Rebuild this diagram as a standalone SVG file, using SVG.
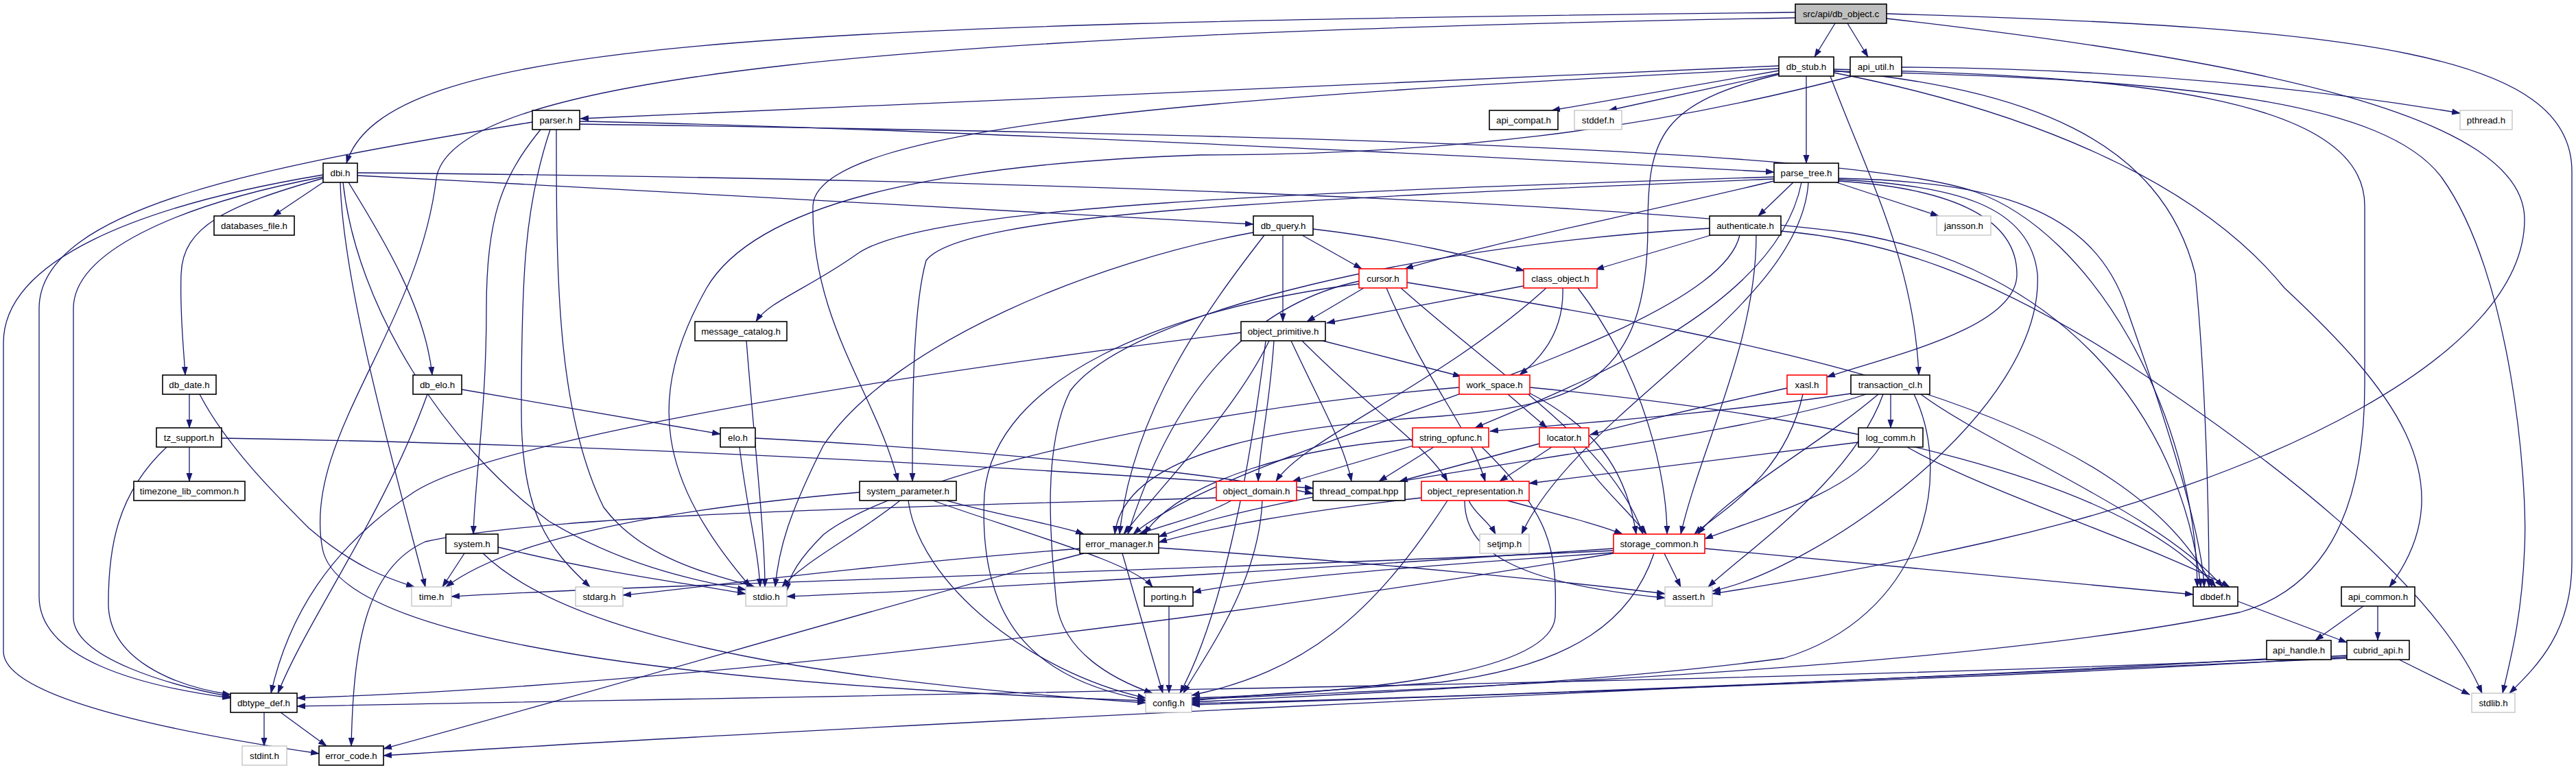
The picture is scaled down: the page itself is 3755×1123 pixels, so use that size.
<svg xmlns="http://www.w3.org/2000/svg" width="3755" height="1123" viewBox="0 0 3755 1123">
<style>
.e path{fill:none;stroke:#191970;stroke-width:1.3;marker-end:url(#a)}
.n rect{fill:#fff;stroke:#000;stroke-width:1.6}
.n.r rect{stroke:#ff0000}
.n.g rect{stroke:#c0c0c0;stroke-width:1.3}
.n.root rect{fill:#bfbfbf}
.n text{font-family:"Liberation Sans",Arial,Helvetica,sans-serif;font-size:13.33px;text-anchor:middle;fill:#000}
</style>
<defs>
<marker id="a" viewBox="0 0 13 10" markerWidth="13" markerHeight="10" refX="12" refY="5" orient="auto" markerUnits="userSpaceOnUse"><path d="M0,0.5 L13,5 L0,9.5 z" fill="#191970"/></marker>
</defs>
<rect width="3755" height="1123" fill="#fff"/>
<g id="edges" class="e">
<path d="M2617,18 C1100,35 560,60 505,238"/>
<path d="M2675,34 L2645,83"/>
<path d="M2693,34 L2723,83"/>
<path d="M2617,26 C1300,50 660,110 636,260 C610,480 440,640 470,800 C500,960 1200,1005 1670,1022"/>
<path d="M2750,20 C3450,40 3749,80 3749,250 L3749,820 C3749,920 3700,970 3658,1011"/>
<path d="M2750,27 C3300,90 3680,170 3680,320 C3680,520 3300,700 2900,790 C2700,835 2560,856 2496,866"/>
<path d="M2593,96 L846,173"/>
<path d="M2633,111 L2633,238"/>
<path d="M2593,103 L2262,161"/>
<path d="M2593,107 L2345,161"/>
<path d="M2593,100 C1800,140 1190,180 1185,300 C1182,470 1280,580 1309,702"/>
<path d="M2595,108 C2420,150 2402,200 2402,330 C2402,560 2300,590 2100,607 C1900,620 1640,650 1625,779"/>
<path d="M2668,111 C2720,250 2790,380 2797,547"/>
<path d="M2673,106 C2950,160 3200,260 3330,420 C3480,560 3600,700 3483,856"/>
<path d="M2673,103 C2950,130 3150,200 3200,400 C3215,550 3220,750 3220,856"/>
<path d="M2673,101 C3100,110 3447,140 3447,300 L3447,560 C3447,760 3380,860 3265,893 C2900,970 2200,1000 1737,1020"/>
<path d="M2673,104 C3200,115 3480,150 3560,260 C3660,400 3685,700 3680,800 C3676,900 3660,960 3648,1011"/>
<path d="M2772,98 C3100,100 3380,130 3586,165"/>
<path d="M2700,111 C2400,190 2100,226 1750,226 C1350,240 1100,300 1030,420 C940,580 960,700 1094,856"/>
<path d="M845,177 C1300,185 2200,230 2586,251"/>
<path d="M776,178 C400,240 57,300 57,450 L57,870 C57,960 200,1000 336,1018"/>
<path d="M788,189 C730,260 709,320 709,450 C709,600 692,700 690,779"/>
<path d="M802,189 C765,300 760,400 760,600 C760,750 800,800 860,856"/>
<path d="M811,189 C811,400 811,600 880,740 C940,820 1050,840 1100,856"/>
<path d="M845,181 C1800,195 2700,215 2880,280 C3050,340 3200,600 3203,856"/>
<path d="M471,266 L398,315"/>
<path d="M471,260 C330,300 266,330 264,400 C262,460 268,510 270,547"/>
<path d="M508,266 C560,350 620,450 630,547"/>
<path d="M521,256 C1000,280 1500,310 1827,327"/>
<path d="M471,255 C200,300 5,380 5,500 L5,950 C5,1010 200,1060 465,1099"/>
<path d="M471,258 C250,300 107,370 107,450 L107,900 C107,960 250,1000 336,1016"/>
<path d="M496,266 C500,420 580,700 620,856"/>
<path d="M500,266 C520,450 650,650 800,760 C900,820 1000,845 1087,860"/>
<path d="M521,252 C1400,260 2300,290 2700,340 C3000,390 3180,600 3208,856"/>
<path d="M2614,266 L2563,315"/>
<path d="M2677,266 L2826,315"/>
<path d="M2680,264 C2850,275 2940,320 2940,400 C2940,480 2750,520 2663,550"/>
<path d="M2586,264 C2350,320 2150,360 2048,392"/>
<path d="M2586,258 C1900,280 1350,300 1250,370 C1180,420 1120,440 1102,469"/>
<path d="M2586,261 C1900,290 1400,310 1350,380 C1330,450 1330,600 1330,702"/>
<path d="M2636,266 C2625,450 2300,600 2218,779"/>
<path d="M2626,266 C2590,450 2300,560 2150,624"/>
<path d="M2680,262 C2850,270 2960,300 2970,400 C2980,600 2650,830 2496,862"/>
<path d="M2680,260 C2900,265 3050,300 3100,450 C3160,620 3210,780 3213,856"/>
<path d="M2494,343 L2326,393"/>
<path d="M2492,333 C2100,355 1650,450 1560,570 C1520,650 1530,780 1540,880 C1550,950 1620,990 1680,1011"/>
<path d="M2536,343 C2500,500 1800,650 1652,779"/>
<path d="M2560,343 C2560,500 2480,650 2450,779"/>
<path d="M2596,337 C2750,350 2900,400 3100,530 C3300,660 3550,850 3618,1011"/>
<path d="M1898,343 L1985,392"/>
<path d="M1914,334 C2050,350 2150,375 2222,395"/>
<path d="M1870,343 L1870,469"/>
<path d="M1843,343 C1760,450 1650,600 1632,779"/>
<path d="M1827,339 C1600,380 1300,500 1200,650 C1150,750 1135,800 1130,856"/>
<path d="M1988,420 L1905,469"/>
<path d="M2021,420 C2080,560 2140,620 2165,702"/>
<path d="M2042,420 C2200,560 2350,650 2395,779"/>
<path d="M2051,412 C2600,500 3100,600 3225,856"/>
<path d="M1981,410 C1800,450 1700,600 1644,779"/>
<path d="M1981,414 C1700,450 1450,550 1435,720 C1425,900 1500,990 1670,1021"/>
<path d="M2221,417 L1934,471"/>
<path d="M2278,420 C2280,480 2250,520 2215,547"/>
<path d="M2254,420 C2100,560 1900,640 1860,702"/>
<path d="M2300,420 C2400,550 2430,700 2430,779"/>
<path d="M1088,497 C1100,650 1115,780 1115,856"/>
<path d="M1928,497 L2130,549"/>
<path d="M1857,497 C1850,600 1836,650 1834,702"/>
<path d="M1882,497 C1930,600 1960,650 1970,702"/>
<path d="M1898,497 C2000,600 2080,650 2110,702"/>
<path d="M1850,497 C1800,600 1700,700 1638,779"/>
<path d="M1845,497 C1820,700 1780,900 1720,1011"/>
<path d="M1809,485 C1200,560 700,650 600,720 C480,800 420,900 395,1011"/>
<path d="M276,575 L276,624"/>
<path d="M291,575 C330,650 400,720 450,770 C520,830 570,845 604,856"/>
<path d="M673,568 L1050,633"/>
<path d="M623,575 C560,750 450,900 405,1011"/>
<path d="M2198,575 L2255,624"/>
<path d="M2127,565 C1700,600 1300,700 1200,780 C1165,815 1150,840 1147,862"/>
<path d="M2230,565 C2700,610 3100,700 3230,856"/>
<path d="M2229,573 C2320,620 2370,680 2385,779"/>
<path d="M2605,566 C2450,600 2350,625 2318,634"/>
<path d="M2698,574 C2450,610 2250,620 2172,629"/>
<path d="M2628,575 C2600,700 2500,750 2470,779"/>
<path d="M2756,575 L2756,624"/>
<path d="M2738,575 C2650,650 2520,720 2475,779"/>
<path d="M2720,575 C2500,650 1900,700 1689,783"/>
<path d="M2745,575 C2700,700 2550,800 2490,856"/>
<path d="M2790,575 C2850,700 2800,900 2600,960 C2300,1000 1900,1015 1737,1024"/>
<path d="M2800,575 C2900,650 3150,750 3240,856"/>
<path d="M276,652 L276,702"/>
<path d="M243,652 C170,720 158,800 158,880 C158,960 250,1000 336,1013"/>
<path d="M323,639 C1000,650 1600,690 1914,712"/>
<path d="M1101,639 C1500,660 1800,695 1914,720"/>
<path d="M1078,652 C1090,750 1105,800 1108,856"/>
<path d="M2090,652 L2010,702"/>
<path d="M2060,650 L1884,702"/>
<path d="M2059,641 C1900,650 1720,700 1668,779"/>
<path d="M2160,652 C2260,750 2270,800 2267,900 C2260,980 2000,1010 1737,1018"/>
<path d="M2262,652 L2186,702"/>
<path d="M2244,647 L2040,702"/>
<path d="M2294,652 C2330,710 2370,740 2400,779"/>
<path d="M2709,645 C2500,670 2350,690 2229,705"/>
<path d="M2740,652 C2700,720 2550,760 2485,786"/>
<path d="M2780,652 C2900,720 3150,800 3250,856"/>
<path d="M1253,718 C1000,740 750,780 650,856"/>
<path d="M1312,730 C1250,780 1170,820 1140,856"/>
<path d="M1324,730 C1340,850 1500,980 1670,1018"/>
<path d="M1360,730 C1500,780 1650,820 1680,856"/>
<path d="M1380,730 C1450,750 1540,765 1580,779"/>
<path d="M1795,730 C1760,750 1700,765 1660,779"/>
<path d="M1840,730 C1835,850 1760,950 1725,1011"/>
<path d="M1773,726 C1300,740 800,750 620,790 C530,830 515,950 512,1088"/>
<path d="M2072,726 C1900,745 1760,770 1689,791"/>
<path d="M2141,730 C2150,750 2170,760 2180,779"/>
<path d="M2197,730 C2270,750 2330,765 2365,779"/>
<path d="M2135,730 C2135,800 2200,850 2427,872"/>
<path d="M2110,730 C2000,900 1900,980 1737,1014"/>
<path d="M677,807 L645,856"/>
<path d="M726,798 C900,840 1000,850 1087,866"/>
<path d="M704,807 C850,950 1300,1000 1670,1025"/>
<path d="M1574,800 C1200,830 1000,860 908,868"/>
<path d="M1580,807 C1300,880 900,1000 559,1092"/>
<path d="M1636,807 L1695,1011"/>
<path d="M1689,799 C2000,820 2300,850 2427,866"/>
<path d="M2485,800 L3197,867"/>
<path d="M2426,807 L2450,856"/>
<path d="M2411,807 C2380,900 2300,970 2100,995 C1900,1010 1800,1015 1737,1022"/>
<path d="M2352,800 C1900,830 1400,860 1147,870"/>
<path d="M2352,803 C1800,830 1000,850 658,870"/>
<path d="M2352,806 C2000,830 1800,850 1739,864"/>
<path d="M2352,807 C1800,900 1000,1000 433,1018"/>
<path d="M1704,884 L1704,1011"/>
<path d="M3262,877 L3421,937"/>
<path d="M3445,884 L3375,934"/>
<path d="M3466,884 L3466,934"/>
<path d="M3304,961 C2800,990 2200,1015 1737,1026"/>
<path d="M3497,962 L3600,1013"/>
<path d="M3421,958 C3000,985 2300,1010 1737,1028"/>
<path d="M3421,960 C2500,1000 1200,1060 559,1102"/>
<path d="M3421,956 C2800,990 1500,1010 433,1030"/>
<path d="M385,1039 L385,1088"/>
<path d="M409,1039 L476,1088"/>
</g>
<g id="node_db_object_c" class="n root"><rect x="2617" y="6" width="133" height="28"/><text x="2683.5" y="25">src/api/db_object.c</text></g>
<g id="node_db_stub_h" class="n"><rect x="2593" y="83" width="80" height="28"/><text x="2633" y="102">db_stub.h</text></g>
<g id="node_api_util_h" class="n"><rect x="2697" y="83" width="75" height="28"/><text x="2734.5" y="102">api_util.h</text></g>
<g id="node_parser_h" class="n"><rect x="776" y="161" width="69" height="28"/><text x="810.5" y="180">parser.h</text></g>
<g id="node_api_compat_h" class="n"><rect x="2171" y="161" width="100" height="28"/><text x="2221" y="180">api_compat.h</text></g>
<g id="node_stddef_h" class="n g"><rect x="2295" y="161" width="69" height="28"/><text x="2329.5" y="180">stddef.h</text></g>
<g id="node_pthread_h" class="n g"><rect x="3586" y="161" width="76" height="28"/><text x="3624" y="180">pthread.h</text></g>
<g id="node_dbi_h" class="n"><rect x="471" y="238" width="50" height="28"/><text x="496" y="257">dbi.h</text></g>
<g id="node_parse_tree_h" class="n"><rect x="2586" y="238" width="94" height="28"/><text x="2633" y="257">parse_tree.h</text></g>
<g id="node_databases_file_h" class="n"><rect x="312" y="315" width="117" height="28"/><text x="370.5" y="334">databases_file.h</text></g>
<g id="node_db_query_h" class="n"><rect x="1827" y="315" width="87" height="28"/><text x="1870.5" y="334">db_query.h</text></g>
<g id="node_authenticate_h" class="n"><rect x="2492" y="315" width="104" height="28"/><text x="2544" y="334">authenticate.h</text></g>
<g id="node_jansson_h" class="n g"><rect x="2823" y="315" width="79" height="28"/><text x="2862.5" y="334">jansson.h</text></g>
<g id="node_cursor_h" class="n r"><rect x="1981" y="392" width="70" height="28"/><text x="2016" y="411">cursor.h</text></g>
<g id="node_class_object_h" class="n r"><rect x="2221" y="392" width="107" height="28"/><text x="2274.5" y="411">class_object.h</text></g>
<g id="node_message_catalog_h" class="n"><rect x="1013" y="469" width="134" height="28"/><text x="1080" y="488">message_catalog.h</text></g>
<g id="node_object_primitive_h" class="n"><rect x="1809" y="469" width="123" height="28"/><text x="1870.5" y="488">object_primitive.h</text></g>
<g id="node_db_date_h" class="n"><rect x="237" y="547" width="78" height="28"/><text x="276" y="566">db_date.h</text></g>
<g id="node_db_elo_h" class="n"><rect x="602" y="547" width="71" height="28"/><text x="637.5" y="566">db_elo.h</text></g>
<g id="node_work_space_h" class="n r"><rect x="2127" y="547" width="103" height="28"/><text x="2178.5" y="566">work_space.h</text></g>
<g id="node_xasl_h" class="n r"><rect x="2605" y="547" width="58" height="28"/><text x="2634" y="566">xasl.h</text></g>
<g id="node_transaction_cl_h" class="n"><rect x="2698" y="547" width="115" height="28"/><text x="2755.5" y="566">transaction_cl.h</text></g>
<g id="node_tz_support_h" class="n"><rect x="228" y="624" width="95" height="28"/><text x="275.5" y="643">tz_support.h</text></g>
<g id="node_elo_h" class="n"><rect x="1050" y="624" width="51" height="28"/><text x="1075.5" y="643">elo.h</text></g>
<g id="node_string_opfunc_h" class="n r"><rect x="2059" y="624" width="111" height="28"/><text x="2114.5" y="643">string_opfunc.h</text></g>
<g id="node_locator_h" class="n r"><rect x="2244" y="624" width="72" height="28"/><text x="2280" y="643">locator.h</text></g>
<g id="node_log_comm_h" class="n"><rect x="2709" y="624" width="94" height="28"/><text x="2756" y="643">log_comm.h</text></g>
<g id="node_timezone_lib_common_h" class="n"><rect x="195" y="702" width="162" height="28"/><text x="276" y="721">timezone_lib_common.h</text></g>
<g id="node_system_parameter_h" class="n"><rect x="1253" y="702" width="141" height="28"/><text x="1323.5" y="721">system_parameter.h</text></g>
<g id="node_object_domain_h" class="n r"><rect x="1773" y="702" width="117" height="28"/><text x="1831.5" y="721">object_domain.h</text></g>
<g id="node_thread_compat_hpp" class="n"><rect x="1914" y="702" width="134" height="28"/><text x="1981" y="721">thread_compat.hpp</text></g>
<g id="node_object_representation_h" class="n r"><rect x="2072" y="702" width="157" height="28"/><text x="2150.5" y="721">object_representation.h</text></g>
<g id="node_system_h" class="n"><rect x="650" y="779" width="76" height="28"/><text x="688" y="798">system.h</text></g>
<g id="node_error_manager_h" class="n"><rect x="1574" y="779" width="115" height="28"/><text x="1631.5" y="798">error_manager.h</text></g>
<g id="node_setjmp_h" class="n g"><rect x="2157" y="779" width="72" height="28"/><text x="2193" y="798">setjmp.h</text></g>
<g id="node_storage_common_h" class="n r"><rect x="2352" y="779" width="133" height="28"/><text x="2418.5" y="798">storage_common.h</text></g>
<g id="node_time_h" class="n g"><rect x="600" y="856" width="58" height="28"/><text x="629" y="875">time.h</text></g>
<g id="node_stdarg_h" class="n g"><rect x="839" y="856" width="69" height="28"/><text x="873.5" y="875">stdarg.h</text></g>
<g id="node_stdio_h" class="n g"><rect x="1087" y="856" width="60" height="28"/><text x="1117" y="875">stdio.h</text></g>
<g id="node_porting_h" class="n"><rect x="1668" y="856" width="71" height="28"/><text x="1703.5" y="875">porting.h</text></g>
<g id="node_assert_h" class="n g"><rect x="2427" y="856" width="69" height="28"/><text x="2461.5" y="875">assert.h</text></g>
<g id="node_dbdef_h" class="n"><rect x="3197" y="856" width="65" height="28"/><text x="3229.5" y="875">dbdef.h</text></g>
<g id="node_api_common_h" class="n"><rect x="3413" y="856" width="107" height="28"/><text x="3466.5" y="875">api_common.h</text></g>
<g id="node_api_handle_h" class="n"><rect x="3304" y="934" width="94" height="28"/><text x="3351" y="953">api_handle.h</text></g>
<g id="node_cubrid_api_h" class="n"><rect x="3421" y="934" width="91" height="28"/><text x="3466.5" y="953">cubrid_api.h</text></g>
<g id="node_dbtype_def_h" class="n"><rect x="336" y="1011" width="97" height="28"/><text x="384.5" y="1030">dbtype_def.h</text></g>
<g id="node_config_h" class="n g"><rect x="1670" y="1011" width="67" height="28"/><text x="1703.5" y="1030">config.h</text></g>
<g id="node_stdlib_h" class="n g"><rect x="3603" y="1011" width="63" height="28"/><text x="3634.5" y="1030">stdlib.h</text></g>
<g id="node_stdint_h" class="n g"><rect x="353" y="1088" width="65" height="28"/><text x="385.5" y="1107">stdint.h</text></g>
<g id="node_error_code_h" class="n"><rect x="465" y="1088" width="94" height="28"/><text x="512" y="1107">error_code.h</text></g>
</svg>
